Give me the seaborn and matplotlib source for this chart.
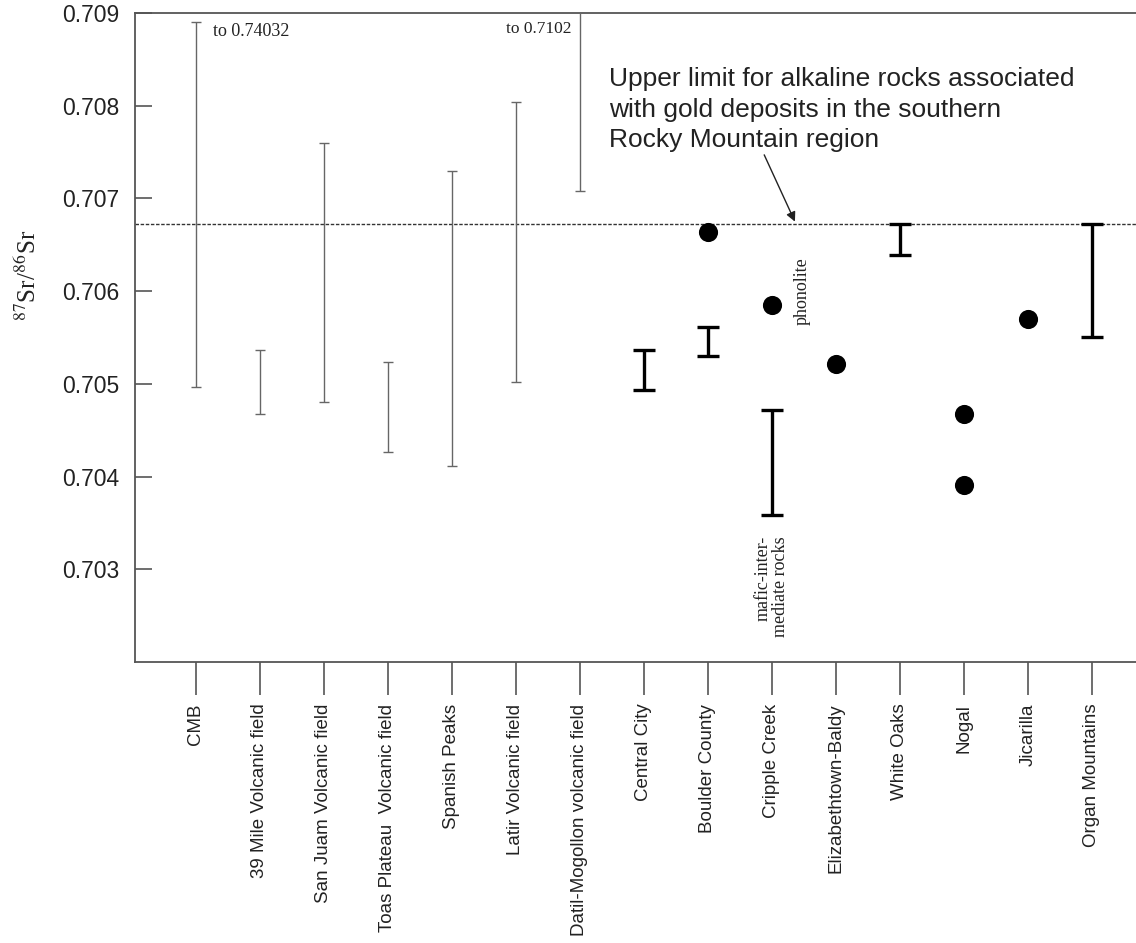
import matplotlib
matplotlib.use("Agg")
import matplotlib.pyplot as plt
import seaborn as sns
import pandas as pd
import numpy as np

# ---------------- data ----------------
categories = ["CMB", "39 Mile Volcanic field", "San Juam Volcanic field",
              "Toas Plateau  Volcanic field", "Spanish Peaks", "Latir Volcanic field",
              "Datil-Mogollon volcanic field", "Central City", "Boulder County",
              "Cripple Creek", "Elizabethtown-Baldy", "White Oaks", "Nogal",
              "Jicarilla", "Organ Mountains"]

# thin ranges (volcanic fields)
thin_cats = ["CMB", "39 Mile Volcanic field", "San Juam Volcanic field",
             "Toas Plateau  Volcanic field", "Spanish Peaks", "Latir Volcanic field",
             "Datil-Mogollon volcanic field"]
thin_low = [0.70497, 0.70468, 0.70480, 0.70427, 0.70411, 0.70502, 0.70708]
thin_high = [0.70890, 0.70536, 0.70760, 0.70524, 0.70730, 0.70804, 0.71020]

# thick ranges (gold-deposit alkaline rocks)
thick_cats = ["Central City", "Boulder County", "Cripple Creek", "White Oaks", "Organ Mountains"]
thick_low = [0.70493, 0.70530, 0.70359, 0.70639, 0.70551]
thick_high = [0.70536, 0.70561, 0.70472, 0.70672, 0.70672]

# single values
dot_cats = ["Boulder County", "Cripple Creek", "Elizabethtown-Baldy", "Nogal", "Nogal", "Jicarilla"]
dot_vals = [0.70664, 0.70585, 0.70521, 0.70468, 0.70391, 0.70570]

upper_limit = 0.70672
yticks = [0.703, 0.704, 0.705, 0.706, 0.707, 0.708, 0.709]

# ---------------- figure ----------------
sns.set_style("white")
plt.rcParams["font.family"] = ["Liberation Sans", "DejaVu Sans"]
plt.rcParams["mathtext.fontset"] = "stix"

fig = plt.figure(figsize=(11.36, 9.43), dpi=100)
ax = fig.add_axes([135 / 1136, 1 - 662 / 943, 1 - 135 / 1136, (662 - 13) / 943])

pos = {c: i for i, c in enumerate(categories)}

df_dots = pd.DataFrame({"cat": dot_cats, "val": dot_vals})
df_dots["x"] = df_dots["cat"].map(pos)
sns.scatterplot(data=df_dots, x="x", y="val", ax=ax, color="black", s=190,
                edgecolor="black", linewidth=0, zorder=4, legend=False)

thin_x = [pos[c] for c in thin_cats]
thin_mid = (np.array(thin_low) + np.array(thin_high)) / 2
ax.errorbar(thin_x, thin_mid,
            yerr=[thin_mid - np.array(thin_low), np.array(thin_high) - thin_mid],
            fmt="none", ecolor="#666666", elinewidth=1.0, capsize=3.8, capthick=1.0, zorder=3)

thick_x = [pos[c] for c in thick_cats]
thick_mid = (np.array(thick_low) + np.array(thick_high)) / 2
ax.errorbar(thick_x, thick_mid,
            yerr=[thick_mid - np.array(thick_low), np.array(thick_high) - thick_mid],
            fmt="none", ecolor="black", elinewidth=2.4, capsize=8, capthick=2.4, zorder=3)

ax.axhline(upper_limit, color="#333333", lw=1.0, ls=(0, (2.5, 1.2)), zorder=2)

ax.set_xlim(-0.953, 14.69)
ax.set_ylim(0.702, 0.709)
ax.set_yticks(yticks)
ax.set_yticklabels([f"{v:.3f}" for v in yticks])
ax.set_xticks(range(len(categories)))
ax.set_xticklabels(categories, rotation=90, fontsize=13.5, color="#222222")
ax.set_xlabel("")
ax.set_ylabel(r"$^{87}$Sr/$^{86}$Sr", family="Liberation Serif", fontsize=18,
              color="#222222")
ax.yaxis.set_label_coords((41 - 135) / 1001, (662 - 275) / 649)

ax.tick_params(axis="y", left=True, direction="in", length=12, width=1.2, color="#555555",
               labelsize=16.5, pad=11, labelcolor="#222222")
ax.tick_params(axis="x", bottom=True, direction="out", length=24, width=1.2,
               color="#555555", pad=6)
for lbl in ax.get_yticklabels():
    lbl.set_va("center_baseline")

for side in ["left", "bottom", "top"]:
    ax.spines[side].set_color("#555555")
    ax.spines[side].set_linewidth(1.3)
ax.spines["right"].set_visible(False)

serif = ["Liberation Serif", "DejaVu Serif"]
ax.text(pos["CMB"] + 0.27, 0.70880, "to 0.74032", family=serif, fontsize=13,
        ha="left", va="center", color="#222222")
ax.text(pos["Datil-Mogollon volcanic field"] - 0.13, 0.70883, "to 0.7102", family=serif,
        fontsize=12.5, ha="right", va="center", color="#222222")
ax.text(pos["Cripple Creek"] + 0.47, 0.70600, "phonolite", family=serif, fontsize=13,
        rotation=90, ha="center", va="center", color="#222222")
ax.text(pos["Cripple Creek"] + 0.0, 0.70336, "mafic-inter-\nmediate rocks", family=serif,
        fontsize=13, rotation=90, ha="center", va="top", multialignment="right",
        linespacing=1.05, color="#222222")

ax.text(6.45, 0.70842, "Upper limit for alkaline rocks associated\n"
        "with gold deposits in the southern\nRocky Mountain region",
        fontsize=19, ha="left", va="top", linespacing=1.36, color="#222222")
ax.annotate("", xy=(9.36, upper_limit + 0.00003), xytext=(8.88, 0.70747),
            arrowprops=dict(arrowstyle="-|>", color="#222222", lw=1.0,
                            mutation_scale=14, shrinkA=0, shrinkB=0))

fig.savefig("out.png", dpi=100)
